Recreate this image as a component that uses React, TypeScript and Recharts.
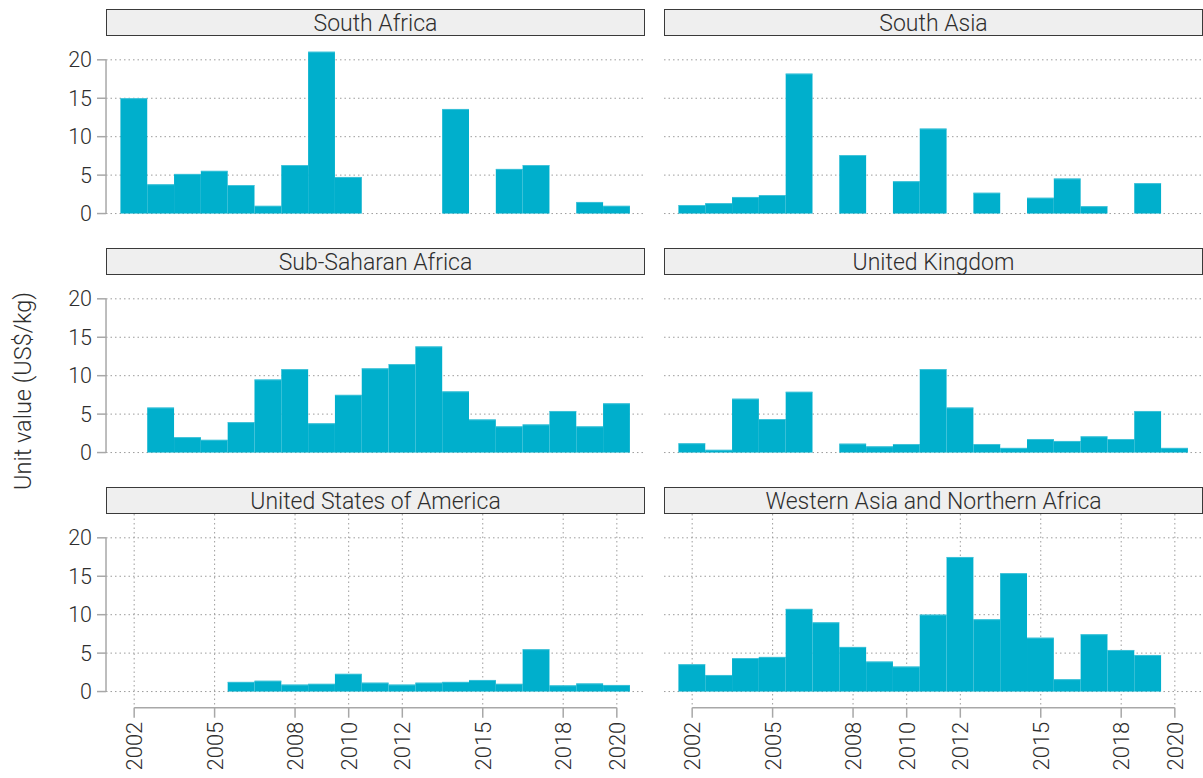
import React from 'react';
import { BarChart, Bar, XAxis, YAxis, CartesianGrid, ReferenceLine } from 'recharts';

// ---- data ----
const YEARS = [2002, 2003, 2004, 2005, 2006, 2007, 2008, 2009, 2010, 2011, 2012, 2013, 2014, 2015, 2016, 2017, 2018, 2019, 2020];
const X_TICKS = [2002, 2005, 2008, 2010, 2012, 2015, 2018, 2020];
const Y_TICKS = [0, 5, 10, 15, 20];

const SOUTH_AFRICA = [15.0, 3.8, 5.15, 5.55, 3.7, 1.0, 6.3, 21.05, 4.75, null, null, null, 13.6, null, 5.8, 6.3, null, 1.5, 1.0];
const SOUTH_ASIA = [1.1, 1.35, 2.15, 2.4, 18.2, null, 7.6, null, 4.2, 11.05, null, 2.7, null, 2.05, 4.55, 0.95, null, 3.95, null];
const SUB_SAHARAN_AFRICA = [null, 5.85, 2.0, 1.65, 3.95, 9.5, 10.85, 3.8, 7.5, 10.95, 11.5, 13.8, 7.95, 4.3, 3.4, 3.65, 5.4, 3.4, 6.4];
const UNITED_KINGDOM = [1.2, 0.35, 7.0, 4.35, 7.9, null, 1.15, 0.8, 1.1, 10.85, 5.85, 1.1, 0.6, 1.75, 1.5, 2.1, 1.75, 5.4, 0.6];
const UNITED_STATES = [null, null, null, null, 1.25, 1.4, 0.9, 1.0, 2.3, 1.15, 0.9, 1.15, 1.25, 1.5, 1.0, 5.5, 0.8, 1.05, 0.85];
const WESTERN_ASIA_N_AFRICA = [3.55, 2.15, 4.35, 4.5, 10.75, 9.0, 5.8, 3.9, 3.25, 10.0, 17.5, 9.4, 15.4, 7.0, 1.6, 7.45, 5.4, 4.75, null];

const PANEL_TITLES = [
  'South Africa',
  'South Asia',
  'Sub-Saharan Africa',
  'United Kingdom',
  'United States of America',
  'Western Asia and Northern Africa',
];
const PANEL_VALUES = [SOUTH_AFRICA, SOUTH_ASIA, SUB_SAHARAN_AFRICA, UNITED_KINGDOM, UNITED_STATES, WESTERN_ASIA_N_AFRICA];

const Y_TITLE = 'Unit value (US$/kg)';

// ---- layout / style ----
const FONT = 'Roboto, "Liberation Sans", Arial, sans-serif';
const TEXT = '#2e2e2e';
const BAR = '#00AFCC';
const BAR_EDGE = '#4cc6dc';
const AXIS = '#a8a8a8';
const GRID = '#9c9c9c';
const X_DOMAIN: [number, number] = [2000.95, 2021.05];
const Y_DOMAIN: [number, number] = [-2.1, 23.1];
const COL_X = [106, 664];
const PANEL_W = 539;
const PANEL_TOPS = [36.2, 275.2, 514.2];
const PLOT_H = 193.7;
const STRIP_H = 27;
const Y_AXIS_W = 106;
const X_AXIS_H = 70;
const YEAR_PX = PANEL_W / (X_DOMAIN[1] - X_DOMAIN[0]);

const XTick = (props: any) => {
  const { x, y, payload } = props;
  return (
    <text
      x={x}
      y={y}
      transform={`rotate(-90, ${x}, ${y})`}
      textAnchor="end"
      dy="0.36em"
      fill={TEXT}
      fontSize={22}
      fontFamily={FONT}
      fontWeight={300}
    >
      {payload.value}
    </text>
  );
};

// Full-width bar centred on the position the library computed for it
const YearBar = (props: any) => {
  const { x, y, width, height } = props;
  if (x == null || y == null || !height) return null;
  const cx = x + width / 2;
  const left = cx - YEAR_PX / 2;
  const top = height < 0 ? y + height : y;
  const h = Math.abs(height);
  return (
    <g>
      <rect x={left} y={top} width={YEAR_PX} height={h} fill={BAR} />
      <line x1={left} x2={left + YEAR_PX} y1={top + 0.4} y2={top + 0.4} stroke={BAR_EDGE} strokeWidth={0.8} />
    </g>
  );
};

function Panel({ idx }: { idx: number }) {
  const col = idx % 2;
  const row = Math.floor(idx / 2);
  const isLeft = col === 0;
  const isBottom = row === 2;
  const values = PANEL_VALUES[idx];
  const data = YEARS.map((year, i) => ({ year, value: values[i] }));

  const chartLeft = isLeft ? COL_X[0] - Y_AXIS_W : COL_X[1];
  const chartW = isLeft ? PANEL_W + Y_AXIS_W : PANEL_W;
  const chartH = PLOT_H + (isBottom ? X_AXIS_H : 0);
  const top = PANEL_TOPS[row];

  return (
    <>
      <div
        style={{
          position: 'absolute',
          left: COL_X[col],
          top: top - STRIP_H,
          width: PANEL_W,
          height: STRIP_H,
          boxSizing: 'border-box',
          border: '1.5px solid #3a3a3a',
          background: '#efefef',
          color: TEXT,
          fontFamily: FONT,
          fontWeight: 300,
          fontSize: 23,
          lineHeight: `${STRIP_H + 1}px`,
          textAlign: 'center',
          whiteSpace: 'nowrap',
        }}
      >
        {PANEL_TITLES[idx]}
      </div>
      <div style={{ position: 'absolute', left: chartLeft, top, width: chartW, height: chartH }}>
        <BarChart
          width={chartW}
          height={chartH}
          data={data}
          margin={{ top: 0, right: 0, bottom: 0, left: 0 }}
          barCategoryGap={0}
          barGap={0}
        >
          <CartesianGrid
            stroke={GRID}
            strokeDasharray="1.5 3"
            strokeWidth={1}
            verticalValues={X_TICKS}
            horizontalValues={Y_TICKS}
          />
          <XAxis
            dataKey="year"
            type="number"
            domain={X_DOMAIN}
            allowDataOverflow
            ticks={X_TICKS}
            interval={0}
            height={isBottom ? X_AXIS_H : 0}
            axisLine={false}
            tickLine={isBottom ? { stroke: AXIS, strokeWidth: 1.5 } : false}
            tickSize={10}
            tickMargin={4}
            tick={isBottom ? <XTick /> : false}
          />
          <YAxis
            type="number"
            domain={Y_DOMAIN}
            allowDataOverflow
            ticks={Y_TICKS}
            interval={0}
            hide={!isLeft}
            width={isLeft ? Y_AXIS_W : 0}
            axisLine={false}
            tickLine={{ stroke: AXIS, strokeWidth: 1.5 }}
            tickSize={9}
            tickMargin={5}
            tick={{ fill: TEXT, fontSize: 21.5, fontFamily: FONT, fontWeight: 300 }}
          />
          {isLeft && (
            <ReferenceLine
              segment={[
                { x: X_DOMAIN[0], y: Y_TICKS[0] },
                { x: X_DOMAIN[0], y: Y_TICKS[Y_TICKS.length - 1] },
              ]}
              stroke={AXIS}
              strokeWidth={1.5}
              ifOverflow="visible"
            />
          )}
          {isBottom && (
            <ReferenceLine
              segment={[
                { x: X_TICKS[0], y: Y_DOMAIN[0] },
                { x: X_TICKS[X_TICKS.length - 1], y: Y_DOMAIN[0] },
              ]}
              stroke={AXIS}
              strokeWidth={1.5}
              ifOverflow="visible"
            />
          )}
          <Bar
            dataKey="value"
            fill={BAR}
            barSize={YEAR_PX}
            shape={<YearBar />}
            isAnimationActive={false}
          />
        </BarChart>
      </div>
    </>
  );
}

export default function App() {
  return (
    <div
      style={{
        position: 'absolute',
        left: 0,
        top: 0,
        width: 1203,
        height: 778,
        background: '#ffffff',
        overflow: 'hidden',
      }}
    >
      <svg width={44} height={778} style={{ position: 'absolute', left: 0, top: 0 }}>
        <text
          x={0}
          y={0}
          transform="translate(22.5, 391) rotate(-90)"
          textAnchor="middle"
          dominantBaseline="central"
          fill={TEXT}
          fontSize={23.5}
          fontFamily={FONT}
          fontWeight={300}
        >
          {Y_TITLE}
        </text>
      </svg>
      {PANEL_TITLES.map((_, i) => (
        <Panel key={i} idx={i} />
      ))}
    </div>
  );
}
